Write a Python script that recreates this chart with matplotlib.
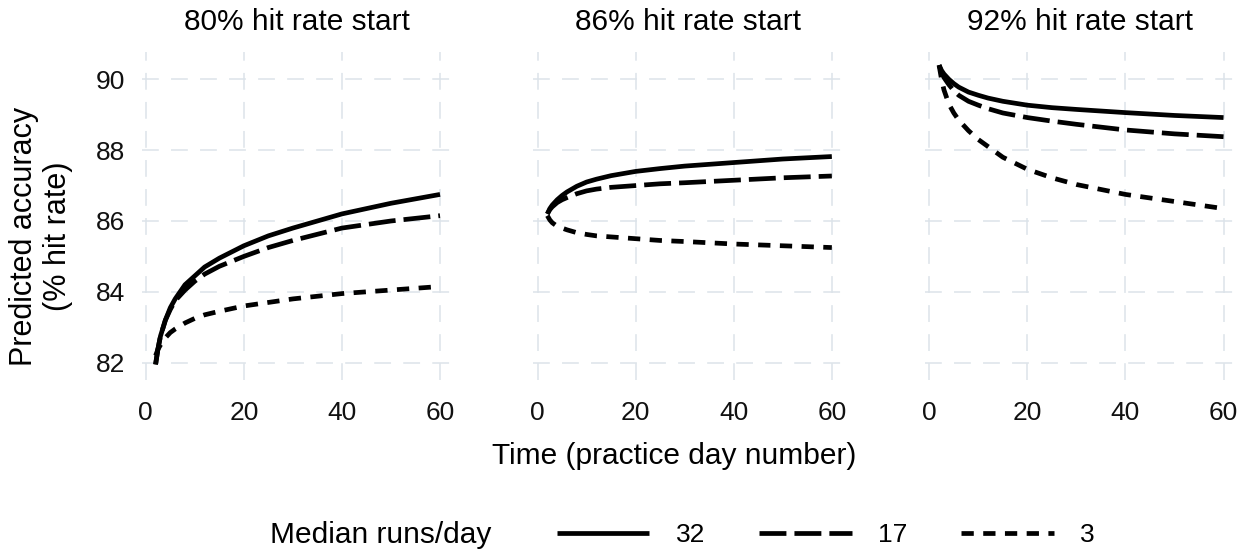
import numpy as np
import matplotlib.pyplot as plt
from matplotlib.lines import Line2D

plt.rcParams['font.family'] = ['Liberation Sans', 'DejaVu Sans']

# ---------------------------------------------------------------------------- #
# Data                                                #
# ---------------------------------------------------------------------------- #
days = [2, 2.5, 3, 4, 5, 6, 8, 10, 12, 15, 20, 25, 30, 40, 50, 60]

panel_titles = ['80% hit rate start', '86% hit rate start', '92% hit rate start']
run_levels = ['32', '17', '3']

start80_runs32 = [81.95, 82.4, 82.75, 83.2, 83.55, 83.8, 84.2, 84.45, 84.7, 84.95,
                  85.3, 85.58, 85.8, 86.2, 86.5, 86.75]
start80_runs17 = [81.95, 82.4, 82.75, 83.2, 83.5, 83.75, 84.05, 84.3, 84.5, 84.72,
                  85.0, 85.25, 85.45, 85.8, 86.0, 86.15]
start80_runs3 = [82.2, 82.38, 82.5, 82.7, 82.85, 82.95, 83.12, 83.25, 83.35, 83.45,
                 83.6, 83.7, 83.8, 83.95, 84.05, 84.15]

start86_runs32 = [86.2, 86.35, 86.45, 86.6, 86.72, 86.82, 86.98, 87.1, 87.18, 87.28,
                  87.4, 87.48, 87.55, 87.65, 87.75, 87.82]
start86_runs17 = [86.2, 86.32, 86.4, 86.52, 86.6, 86.66, 86.77, 86.85, 86.9, 86.95,
                  87.0, 87.05, 87.08, 87.15, 87.22, 87.27]
start86_runs3 = [86.15, 86.03, 85.95, 85.85, 85.8, 85.75, 85.67, 85.62, 85.58, 85.55,
                 85.5, 85.45, 85.42, 85.35, 85.3, 85.25]

start92_runs32 = [90.4, 90.25, 90.15, 90.0, 89.88, 89.78, 89.64, 89.55, 89.47, 89.38,
                  89.27, 89.2, 89.15, 89.06, 88.98, 88.92]
start92_runs17 = [90.4, 90.2, 90.05, 89.85, 89.68, 89.55, 89.38, 89.27, 89.17, 89.05,
                  88.92, 88.82, 88.73, 88.57, 88.46, 88.38]
start92_runs3 = [90.4, 90.0, 89.7, 89.3, 89.05, 88.85, 88.55, 88.3, 88.1, 87.8,
                 87.46, 87.22, 87.03, 86.75, 86.55, 86.35]

panels = [
    [start80_runs32, start80_runs17, start80_runs3],
    [start86_runs32, start86_runs17, start86_runs3],
    [start92_runs32, start92_runs17, start92_runs3],
]

x_ticks = [0, 20, 40, 60]
y_ticks = [82, 84, 86, 88, 90]

# ---------------------------------------------------------------------------- #
# Styles                                                                       #
# ---------------------------------------------------------------------------- #
line_width = 3.4
line_styles = ['-', (0, (5.7, 1.7)), (0, (2.6, 2.0))]
grid_color = '#dce3e9'
grid_style = (0, (11, 8))

W, H = 1245, 555
fig = plt.figure(figsize=(W / 100, H / 100), dpi=100)

panel_lefts = [141.5, 533.3, 925.0]
panel_width = 310.3
panel_top, panel_bottom = 51.7, 380.0

for i, (left, series) in enumerate(zip(panel_lefts, panels)):
    ax = fig.add_axes([left / W, 1 - panel_bottom / H, panel_width / W,
                       (panel_bottom - panel_top) / H])
    for values, ls in zip(series, line_styles):
        ax.plot(days, values, color='black', lw=line_width, ls=ls,
                solid_capstyle='butt', dash_capstyle='butt',
                solid_joinstyle='round', zorder=3)

    ax.set_xlim(-0.87, 62.4)
    ax.set_ylim(81.51, 90.78)
    ax.set_xticks(x_ticks)
    ax.set_yticks(y_ticks)
    ax.grid(True, color=grid_color, lw=1.1, ls=grid_style, zorder=0)
    ax.set_axisbelow(True)
    for spine in ax.spines.values():
        spine.set_visible(False)
    ax.tick_params(length=0, labelsize=19, colors='#111111')
    ax.tick_params(axis='x', pad=15)
    ax.tick_params(axis='y', pad=12)
    if i > 0:
        ax.set_yticklabels([])

    ax.text(0.5, 1.0914, panel_titles[i], transform=ax.transAxes,
            ha='center', va='center', fontsize=21.5, color='black')

# Axis labels ---------------------------------------------------------------- #
fig.text(674 / W, 1 - 456 / H, 'Time (practice day number)', ha='center',
         va='center', fontsize=21.5)
fig.text(41 / W, 1 - 236 / H, 'Predicted accuracy\n(% hit rate)', ha='center',
         va='center', rotation=90, multialignment='center', fontsize=22,
         linespacing=1.2)

# Legend --------------------------------------------------------------------- #
fig.text(270 / W, 1 - 535 / H, 'Median runs/day', ha='left', va='center',
         fontsize=21.5)
handles = [Line2D([0], [0], color='black', lw=line_width, ls=ls,
                  solid_capstyle='butt', dash_capstyle='butt')
           for ls in line_styles]
fig.legend(handles, run_levels, loc='center left',
           bbox_to_anchor=(557 / W, 1 - 535 / H), ncol=3, frameon=False,
           fontsize=19, handlelength=3.5, handletextpad=1.0,
           columnspacing=2.05, borderpad=0, borderaxespad=0)

fig.savefig('out.png', dpi=100, facecolor='white')
